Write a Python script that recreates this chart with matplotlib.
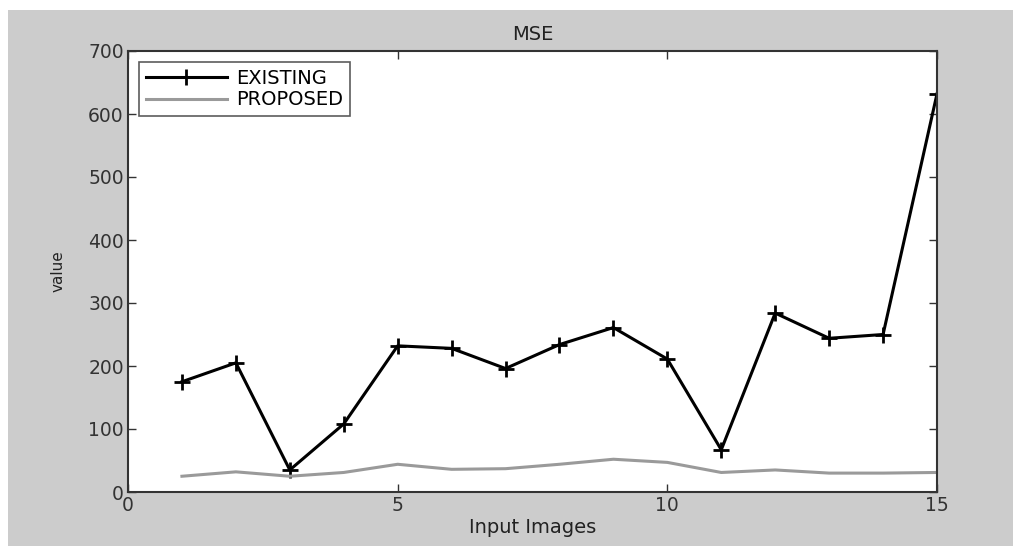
import matplotlib
matplotlib.use("Agg")
import matplotlib.pyplot as plt
from matplotlib.patches import Rectangle

plt.rcParams['font.family'] = ['DejaVu Sans']

x = [1, 2, 3, 4, 5, 6, 7, 8, 9, 10, 11, 12, 13, 14, 15]
existing = [175, 205, 35, 108, 232, 228, 196, 234, 261, 211, 67, 284, 244, 250, 632]
proposed = [25, 32, 25, 31, 44, 36, 37, 44, 52, 47, 31, 35, 30, 30, 31]
xticks = [0, 5, 10, 15]
yticks = [0, 100, 200, 300, 400, 500, 600, 700]

W, H = 1013, 546
fig = plt.figure(figsize=(W / 100, H / 100), dpi=100)
fig.patch.set_facecolor('white')
fig.add_artist(Rectangle((8 / W, 0), 1 - 8 / W, (H - 10) / H,
                         transform=fig.transFigure, facecolor='#cccccc',
                         edgecolor='none', zorder=-10))

ax = fig.add_axes([128 / W, (H - 492) / H, 809 / W, 441 / H])
ax.set_facecolor('white')
ax.plot(x, existing, color='black', linewidth=2.2, marker='+',
        markersize=11, markeredgewidth=2.0, label='EXISTING')
ax.plot(x, proposed, color='#9a9a9a', linewidth=2.2, label='PROPOSED')

ax.set_xlim(0, 15)
ax.set_ylim(0, 700)
ax.set_xticks(xticks)
ax.set_yticks(yticks)
ax.tick_params(direction='in', top=True, right=True, length=6, width=1,
               labelsize=13.5, colors='#333333', pad=3)
for s in ax.spines.values():
    s.set_linewidth(1.5)
    s.set_color('#333333')

ax.set_title('MSE', fontsize=14, color='#222222', pad=8)
ax.set_xlabel('Input Images', fontsize=14, color='#222222', labelpad=2)
ax.set_ylabel('value', fontsize=11, color='#222222', labelpad=16)

leg = ax.legend(loc='upper left', fontsize=14, frameon=True, fancybox=False,
                edgecolor='#333333', borderaxespad=0.55, handlelength=4.2,
                handletextpad=0.45, labelspacing=0.15, borderpad=0.35)
leg.get_frame().set_linewidth(1.2)

fig.savefig('out.png', dpi=100, facecolor=fig.get_facecolor())
